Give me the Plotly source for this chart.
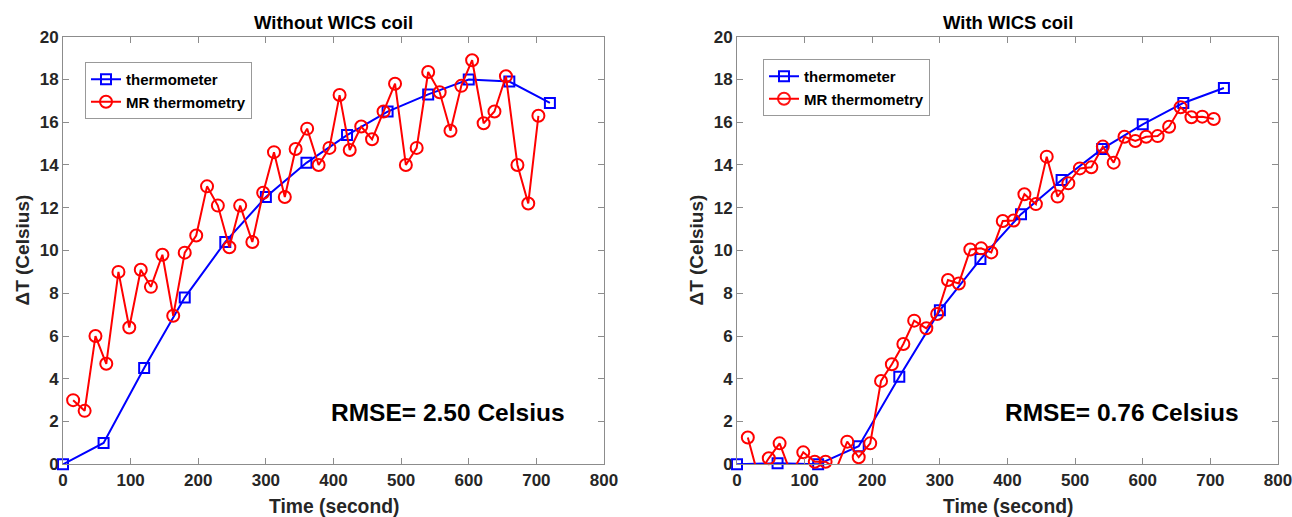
import plotly.graph_objects as go

# ---- data ----
therm_t = [0, 60, 120, 180, 240, 300, 360, 420, 480, 540, 600, 660, 720]
therm_without = [0.0, 1.0, 4.5, 7.8, 10.4, 12.5, 14.1, 15.4, 16.5, 17.3, 18.0, 17.9, 16.9]
therm_with = [0.0, 0.05, 0.0, 0.85, 4.1, 7.2, 9.6, 11.7, 13.3, 14.75, 15.9, 16.9, 17.6]

mr_t = [15, 32, 48, 64, 82, 98, 115, 130, 147, 163, 180, 197, 213, 229, 246, 262,
        280, 296, 312, 328, 344, 361, 378, 394, 409, 424, 441, 457, 474, 491, 507,
        523, 540, 557, 573, 589, 605, 622, 638, 655, 672, 688, 703]
mr_without = [3.0, 2.5, 6.0, 4.7, 9.0, 6.4, 9.1, 8.3, 9.8, 6.95, 9.9, 10.7, 13.0, 12.1,
              10.15, 12.1, 10.4, 12.7, 14.6, 12.5, 14.75, 15.7, 14.0, 14.8, 17.27, 14.7,
              15.8, 15.2, 16.5, 17.8, 14.0, 14.8, 18.35, 17.4, 15.6, 17.7, 18.9, 15.95,
              16.5, 18.15, 14.0, 12.2, 16.3]

mr_t2 = [16, 31, 47, 63, 80, 98, 115, 131, 147, 163, 180, 197, 213, 229, 246, 262,
         280, 296, 312, 328, 345, 361, 376, 393, 409, 425, 442, 458, 474, 490, 507,
         524, 541, 557, 573, 589, 605, 622, 639, 656, 672, 688, 705]
mr_with = [1.25, -0.5, 0.28, 0.98, -0.45, 0.56, 0.12, 0.12, -0.2, 1.06, 0.33, 0.98, 3.9,
           4.68, 5.63, 6.72, 6.36, 7.03, 8.62, 8.46, 10.05, 10.1, 9.91, 11.38, 11.4,
           12.63, 12.17, 14.39, 12.52, 13.14, 13.84, 13.89, 14.86, 14.11, 15.32, 15.12,
           15.32, 15.35, 15.79, 16.7, 16.23, 16.26, 16.15]

titles = ["Without WICS coil", "With WICS coil"]
rmse_text = ["RMSE= 2.50 Celsius", "RMSE= 0.76 Celsius"]
x_ticks = [0, 100, 200, 300, 400, 500, 600, 700, 800]
y_ticks = [0, 2, 4, 6, 8, 10, 12, 14, 16, 18, 20]

BLUE = "#0000FF"
RED = "#FF0000"
FONT = "Liberation Sans"
AX_COLOR = "#8c8c8c"
TXT = "#262626"

W, H = 1292, 517
xdom = [[63 / W, 604 / W], [737 / W, 1278 / W]]
ydom = [(517 - 464.3) / H, (517 - 36.7) / H]
Y_RANGE = [0, 20]

fig = go.Figure()


def visible(vals):
    # markers of points outside the y range are hidden (as clipped in the original)
    return [1 if Y_RANGE[0] <= v <= Y_RANGE[1] else 0 for v in vals]


series = [(therm_without, mr_t, mr_without), (therm_with, mr_t2, mr_with)]
for i, (th, mt, mv) in enumerate(series):
    xa = "x" if i == 0 else "x2"
    ya = "y" if i == 0 else "y2"
    lg = "legend" if i == 0 else "legend2"
    fig.add_trace(go.Scatter(
        x=therm_t, y=th, mode="lines+markers", name="thermometer",
        xaxis=xa, yaxis=ya, legend=lg,
        line=dict(color=BLUE, width=2),
        marker=dict(symbol="square-open", size=10, color=BLUE, line=dict(width=2, color=BLUE)),
        cliponaxis=False))
    fig.add_trace(go.Scatter(
        x=mt, y=mv, mode="lines+markers", name="MR thermometry",
        xaxis=xa, yaxis=ya, legend=lg,
        line=dict(color=RED, width=2),
        marker=dict(symbol="circle-open", size=12, color=RED, opacity=visible(mv),
                    line=dict(width=2, color=RED)),
        cliponaxis=False))

axis_common = dict(
    showline=True, linecolor=AX_COLOR, linewidth=1, mirror="ticks",
    ticks="inside", ticklen=6, tickcolor=AX_COLOR, tickwidth=1,
    showgrid=False, zeroline=False, automargin=False, ticklabeloverflow="allow",
    tickfont=dict(family=FONT, size=17, color=TXT, weight="bold"),
)

layout = dict(
    width=W, height=H, margin=dict(l=0, r=0, t=0, b=0, autoexpand=False),
    paper_bgcolor="white", plot_bgcolor="white",
    showlegend=True,
    font=dict(family=FONT, color=TXT),
)
for i in range(2):
    sfx = "" if i == 0 else "2"
    layout["xaxis" + sfx] = dict(axis_common, domain=xdom[i], range=[0, 800],
                                 tickvals=x_ticks, anchor="y" + sfx)
    layout["yaxis" + sfx] = dict(axis_common, domain=ydom, range=Y_RANGE,
                                 tickvals=y_ticks, anchor="x" + sfx)

leg_common = dict(
    bgcolor="white", bordercolor="#999999", borderwidth=1,
    font=dict(family=FONT, size=15, color="black", weight="bold"),
    xanchor="left", yanchor="top", tracegroupgap=0, itemwidth=30,
)
layout["legend"] = dict(leg_common, x=85 / W, y=1 - 62 / H)
layout["legend2"] = dict(leg_common, x=763 / W, y=1 - 59 / H)

fig.update_layout(**layout)

annotations = []
for i in range(2):
    xc = (xdom[i][0] + xdom[i][1]) / 2
    annotations.append(dict(text=titles[i], x=xc, y=1 - 23 / H, xref="paper", yref="paper",
                            showarrow=False, xanchor="center", yanchor="middle",
                            font=dict(family=FONT, size=18.5, color="black", weight="bold")))
    annotations.append(dict(text="Time (second)", x=xc, y=1 - 506 / H, xref="paper", yref="paper",
                            showarrow=False, xanchor="center", yanchor="middle",
                            font=dict(family=FONT, size=19.3, color=TXT, weight="bold")))
    annotations.append(dict(text="ΔT (Celsius)", x=(xdom[i][0] * W - 41) / W, y=(ydom[0] + ydom[1]) / 2,
                            xref="paper", yref="paper", textangle=-90,
                            showarrow=False, xanchor="center", yanchor="middle",
                            font=dict(family=FONT, size=19, color=TXT, weight="bold")))
    sfx = "" if i == 0 else "2"
    annotations.append(dict(text=rmse_text[i], x=570, y=2.4, xref="x" + sfx, yref="y" + sfx,
                            showarrow=False, xanchor="center", yanchor="middle",
                            font=dict(family=FONT, size=24.5, color="black", weight="bold")))
fig.update_layout(annotations=annotations)

fig.write_html("out.html", config={"displayModeBar": False},
               post_script="document.body.style.margin='0px';")
